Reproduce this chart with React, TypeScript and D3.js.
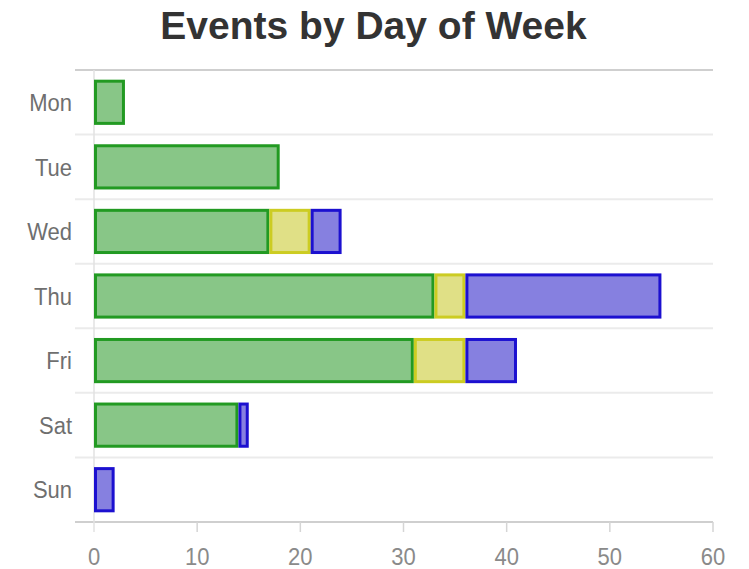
import React from 'react';
import * as d3 from 'd3';

const days = ['Mon', 'Tue', 'Wed', 'Thu', 'Fri', 'Sat', 'Sun'];
const seriesKeys = ['green', 'yellow', 'blue'];
const greenValues = [3, 18, 17, 33, 31, 14, 0];
const yellowValues = [0, 0, 4, 3, 5, 0, 0];
const blueValues = [0, 0, 3, 19, 5, 1, 2];
const xTicks = [0, 10, 20, 30, 40, 50, 60];

const fills: Record<string, string> = { green: '#88c687', yellow: '#e0e086', blue: '#8680e0' };
const strokes: Record<string, string> = { green: '#229a22', yellow: '#cccc22', blue: '#1c10d0' };

const W = 749;
const H = 569;
const margin = { top: 70, right: 36, bottom: 47, left: 94 };

// axis texts in the reference look a little taller than wide
const stretch = (px: number, py: number) => `translate(${px},${py}) scale(1,1.1) translate(${-px},${-py})`;

export default function App() {
  const innerW = W - margin.left - margin.right;
  const innerH = H - margin.top - margin.bottom;

  const rows = days.map((d, i) => ({
    day: d,
    green: greenValues[i],
    yellow: yellowValues[i],
    blue: blueValues[i],
  }));
  const stacked = d3.stack<any>().keys(seriesKeys)(rows);

  const x = d3.scaleLinear().domain([0, 60]).range([0, innerW]);
  const y = d3.scaleBand().domain(days).range([0, innerH]).paddingInner(0.3).paddingOuter(0.15);
  const step = y.step();

  return (
    <svg width={W} height={H} style={{ position: 'absolute', left: 0, top: 0, fontFamily: 'Liberation Sans, Arial, sans-serif' }}>
      <text x={373.5} y={39} textAnchor="middle" fontSize={39} fontWeight="bold" fill="#333">
        Events by Day of Week
      </text>
      <g transform={`translate(${margin.left},${margin.top})`}>
        {/* row separators */}
        {d3.range(days.length + 1).map((i) => (
          <line key={i} x1={-19} x2={innerW} y1={i * step} y2={i * step}
            stroke={i === 0 || i === days.length ? '#cfcfcf' : '#ebebeb'} strokeWidth={2} />
        ))}
        <line x1={x(0)} x2={x(0)} y1={0} y2={innerH + 10} stroke="#e2e2e2" strokeWidth={1.5} />
        {xTicks.slice(1).map((t) => (
          <line key={t} x1={x(t)} x2={x(t)} y1={innerH} y2={innerH + 10} stroke="#d5d5d5" strokeWidth={1.5} />
        ))}
        {xTicks.map((t) => (
          <text key={t} x={x(t)} y={innerH + 43} textAnchor="middle" fontSize={22} fill="#8a8a8a"
            transform={stretch(x(t), innerH + 43)}>
            {t}
          </text>
        ))}
        {days.map((d) => {
          const cy = (y(d) as number) + y.bandwidth() / 2;
          return (
            <text key={d} x={-22} y={cy} dy="0.36em" textAnchor="end" fontSize={22} fill="#6f6f6f"
              transform={stretch(-22, cy)}>
              {d}
            </text>
          );
        })}
        {stacked.map((s) => (
          <g key={s.key}>
            {s.map((p, i) => {
              const w = x(p[1]) - x(p[0]);
              if (w <= 0) return null;
              return (
                <rect key={i} x={x(p[0]) + 1.5} y={(y(days[i]) as number) + 1.5} width={w - 3} height={y.bandwidth() - 3}
                  fill={fills[s.key]} stroke={strokes[s.key]} strokeWidth={3} />
              );
            })}
          </g>
        ))}
      </g>
    </svg>
  );
}
